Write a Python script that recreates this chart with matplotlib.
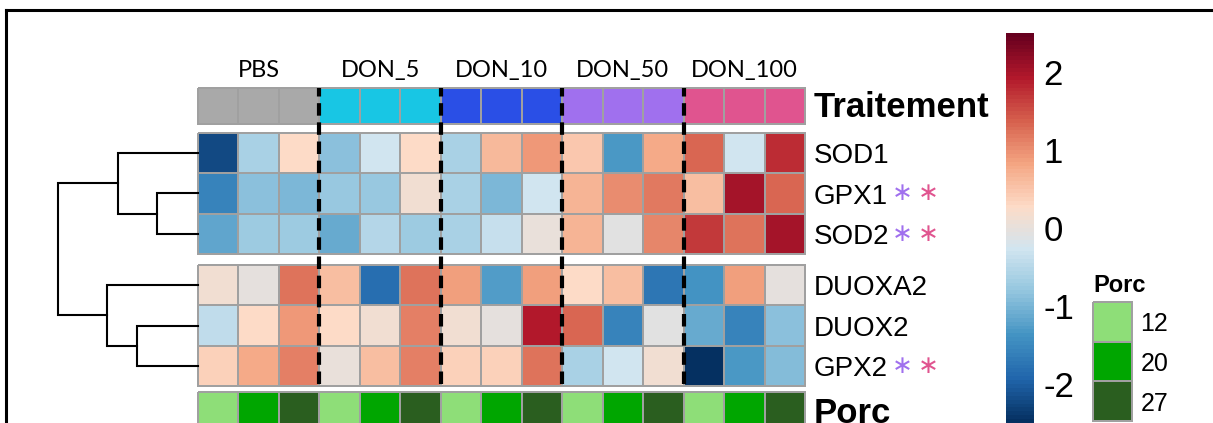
import numpy as np
import matplotlib.pyplot as plt
from matplotlib.colors import ListedColormap, LinearSegmentedColormap, Normalize
from matplotlib.lines import Line2D

plt.rcParams["axes.unicode_minus"] = False

# canvas size in pixels
W, H = 1213, 423

genes = ["SOD1", "GPX1", "SOD2", "DUOXA2", "DUOX2", "GPX2"]
groups = ["PBS", "DON_5", "DON_10", "DON_50", "DON_100"]
group_colors = ["#a9a9a9", "#18c6e4", "#2a4fe6", "#a070ee", "#e0548f"]
porc_levels = ["12", "20", "27"]
porc_colors = ["#8ede78", "#00a600", "#2a5e1f"]

# annotation per sample (15 samples: 5 groups x 3 pigs)
traitement = [0, 0, 0, 1, 1, 1, 2, 2, 2, 3, 3, 3, 4, 4, 4]
porc = [0, 1, 2, 0, 1, 2, 0, 1, 2, 0, 1, 2, 0, 1, 2]

# scaled expression (z-scores), rows in clustered order
sod1 = [-2.2, -0.65, 0.3, -0.85, -0.3, 0.28, -0.65, 0.6, 0.9, 0.45, -1.35, 0.8, 1.3, -0.3, 1.75]
gpx1 = [-1.6, -0.85, -1.0, -0.78, -0.78, 0.12, -0.65, -1.0, -0.3, 0.65, 1.0, 1.15, 0.55, 2.0, 1.3]
sod2 = [-1.2, -0.75, -0.75, -1.15, -0.55, -0.75, -0.65, -0.38, 0.02, 0.65, -0.1, 1.05, 1.65, 1.2, 2.0]
duoxa2 = [0.12, -0.05, 1.2, 0.55, -1.8, 1.2, 0.85, -1.3, 0.85, 0.3, 0.55, -1.75, -1.4, 0.85, -0.05]
duox2 = [-0.45, 0.3, 0.9, 0.3, 0.12, 1.1, 0.12, -0.05, 1.9, 1.3, -1.6, -0.1, -1.15, -1.6, -0.85]
gpx2 = [0.38, 0.78, 1.12, 0.0, 0.55, 1.1, 0.4, 0.4, 1.2, -0.65, -0.3, 0.12, -2.45, -1.35, -0.95]

# genes flagged as significant (star colour = group colour)
starred = ["GPX1", "SOD2", "GPX2"]
star_groups = [3, 4]

# row dendrogram: (left child, right child, height); leaves 0..5, new nodes 6..
merges = [(1, 2, 2.05), (0, 6, 4.0), (4, 5, 3.05), (3, 8, 4.55), (7, 9, 7.0)]

rdbu10 = ["#67001f", "#b2182b", "#d6604d", "#f4a582", "#fddbc7",
          "#d1e5f0", "#92c5de", "#4393c3", "#2166ac", "#053061"]
cmap = LinearSegmentedColormap.from_list("rdbu", rdbu10[::-1], N=100)
norm = Normalize(vmin=-2.5, vmax=2.5)
grid = "#a0a0a0"

fig = plt.figure(figsize=(W / 100, H / 100), dpi=100)


def ax_px(left, top, width, height):
    return fig.add_axes([left / W, 1 - (top + height) / H, width / W, height / H])


def clean(ax):
    for s in ax.spines.values():
        s.set_visible(False)
    ax.set_xticks([])
    ax.set_yticks([])


hm_left, hm_width = 198, 607
ncol = len(traitement)
mat = np.array([sod1, gpx1, sod2, duoxa2, duox2, gpx2])

# Traitement annotation row
ax_t = ax_px(hm_left, 88, hm_width, 36)
m = ax_t.pcolormesh(np.array([traitement]), cmap=ListedColormap(group_colors),
                    vmin=-0.5, vmax=4.5, edgecolors=grid, linewidth=1.3)
m.set_clip_on(False)
ax_t.set_xlim(0, ncol)
ax_t.invert_yaxis()
clean(ax_t)
for g, name in enumerate(groups):
    ax_t.annotate(name, xy=(g * 3 + 1.5, 0), xytext=(0, 5), textcoords="offset points",
                  ha="center", va="bottom", fontsize=17, family="Lato")
ax_t.annotate("Traitement", xy=(1, 0.5), xycoords="axes fraction", xytext=(6, -1),
              textcoords="offset points", ha="left", va="center",
              fontsize=25, fontweight="bold", family="Liberation Sans")

# heatmap, split in two blocks of three rows
blocks = [(133, 0), (265, 3)]
for top, r0 in blocks:
    ax = ax_px(hm_left, top, hm_width, 121)
    m = ax.pcolormesh(mat[r0:r0 + 3], cmap=cmap, norm=norm, edgecolors=grid, linewidth=1.3)
    m.set_clip_on(False)
    ax.set_xlim(0, ncol)
    ax.set_ylim(3, 0)
    for s in ax.spines.values():
        s.set_visible(False)
    ax.set_xticks([])
    ax.yaxis.tick_right()
    ax.set_yticks(np.arange(3) + 0.5)
    ax.set_yticklabels(genes[r0:r0 + 3], fontsize=20, family="Liberation Sans")
    ax.tick_params(axis="y", length=0, pad=6)
    for i, gname in enumerate(genes[r0:r0 + 3]):
        if gname in starred:
            for k, off in zip(star_groups, [97, 123]):
                ax.annotate("\u2217", xy=(1, i + 0.5), xycoords=("axes fraction", "data"),
                            xytext=(off * 0.72, 0), textcoords="offset points",
                            ha="center", va="center", fontsize=18,
                            color=group_colors[k], family="DejaVu Sans")

# Porc annotation row
ax_p = ax_px(hm_left, 392, hm_width, 40)
m = ax_p.pcolormesh(np.array([porc]), cmap=ListedColormap(porc_colors),
                    vmin=-0.5, vmax=2.5, edgecolors=grid, linewidth=1.3)
m.set_clip_on(False)
ax_p.set_xlim(0, ncol)
ax_p.invert_yaxis()
clean(ax_p)
ax_p.annotate("Porc", xy=(1, 0.5), xycoords="axes fraction", xytext=(6, -1),
              textcoords="offset points", ha="left", va="center",
              fontsize=25, fontweight="bold", family="Liberation Sans")

# dashed separators between treatment groups
ax_d = ax_px(hm_left, 88, hm_width, 296)
ax_d.set_xlim(0, ncol)
ax_d.patch.set_alpha(0)
clean(ax_d)
for b in [3, 6, 9, 12]:
    ax_d.axvline(b, color="black", lw=3, linestyle=(0, (3.0, 1.6)), zorder=5)

# row dendrogram
gap = 11 / 40.33
leaf_y = [i + 0.5 + (gap if i >= 3 else 0) for i in range(len(genes))]
ax_g = ax_px(58, 133, 140, 253)
ax_g.set_ylim(6 + gap, 0)
ax_g.set_xlim(merges[-1][2], 0)
ax_g.patch.set_alpha(0)
clean(ax_g)
pos = {i: (y, 0.0) for i, y in enumerate(leaf_y)}
for n, (a, b, h) in enumerate(merges):
    ya, ha_ = pos[a]
    yb, hb = pos[b]
    ax_g.plot([ha_, h, h, hb], [ya, ya, yb, yb], color="black", lw=1.5, clip_on=False,
              solid_joinstyle="miter")
    pos[len(genes) + n] = ((ya + yb) / 2, h)

# colour bar
cax = ax_px(1006, 33, 28, 390)
cb = fig.colorbar(plt.cm.ScalarMappable(norm=norm, cmap=cmap), cax=cax, ticks=[-2, -1, 0, 1, 2])
cb.outline.set_visible(False)
cax.tick_params(length=0, labelsize=25, pad=7)
for t in cax.get_yticklabels():
    t.set_family("Liberation Sans")

# Porc legend
ax_l = ax_px(1093, 302, 39, 119)
m = ax_l.pcolormesh(np.array([[0], [1], [2]]), cmap=ListedColormap(porc_colors),
                    vmin=-0.5, vmax=2.5, edgecolors=grid, linewidth=1.3)
m.set_clip_on(False)
ax_l.set_ylim(3, 0)
for s in ax_l.spines.values():
    s.set_visible(False)
ax_l.set_xticks([])
ax_l.yaxis.tick_right()
ax_l.set_yticks(np.arange(3) + 0.5)
ax_l.set_yticklabels(porc_levels, fontsize=18, family="Liberation Sans")
ax_l.tick_params(axis="y", length=0, pad=6)
ax_l.set_title("Porc", loc="left", fontsize=17, fontweight="bold",
               family="Liberation Sans", pad=7)

# outer frame (cropped box)
fig.add_artist(Line2D([6 / W, 1], [1 - 10 / H, 1 - 10 / H], color="black", lw=2.2))
fig.add_artist(Line2D([6 / W, 6 / W], [0, 1 - 10 / H], color="black", lw=2.2))

fig.savefig("out.png", dpi=100)
